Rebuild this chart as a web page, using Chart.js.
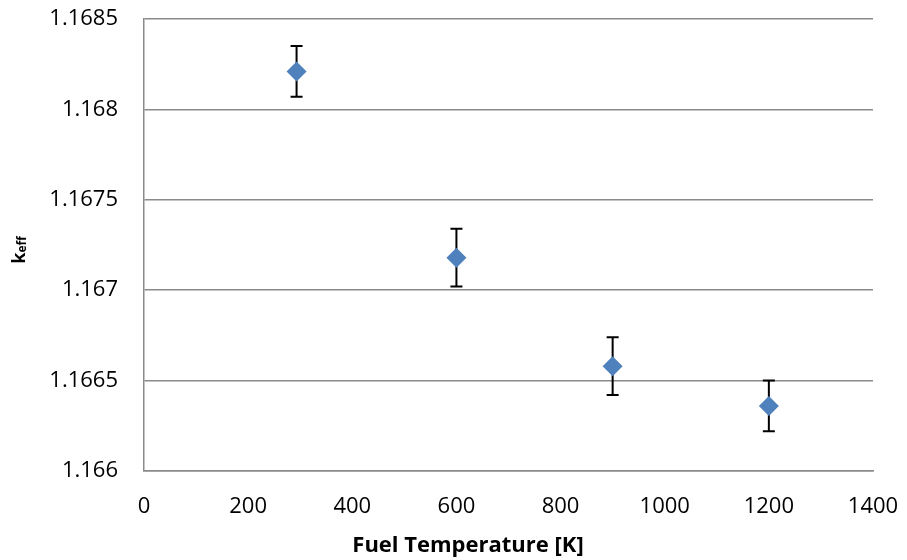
<!DOCTYPE html>
<html>
<head>
<meta charset="utf-8">
<script src="https://cdn.jsdelivr.net/npm/chart.js@4/dist/chart.umd.min.js"></script>
<style>
  html, body { margin: 0; padding: 0; background: #fff; }
  #wrap { width: 907px; height: 560px; }
</style>
</head>
<body>
<div id="wrap"><canvas id="keffChart" width="907" height="560"></canvas></div>
<script>
// fuel temperature [K] and k-eff with one-sigma uncertainty
const temperatures = [293, 600, 900, 1200];
const keffValues = [1.16821, 1.16718, 1.16658, 1.16636];
const keffErrors = [0.00014, 0.00016, 0.00016, 0.00014];
const xTicks = [0, 200, 400, 600, 800, 1000, 1200, 1400];
const yTicks = [1.166, 1.1665, 1.167, 1.1675, 1.168, 1.1685];

const FONT = '"Open Sans", "Liberation Sans", sans-serif';

// vertical error bars with caps, drawn underneath the markers
const errorBars = {
    id: 'errorBars',
    beforeDatasetsDraw(chart) {
        const { ctx, scales: { x, y } } = chart;
        ctx.save();
        ctx.strokeStyle = '#000';
        ctx.lineWidth = 2;
        temperatures.forEach((t, i) => {
            const px = x.getPixelForValue(t);
            const top = y.getPixelForValue(keffValues[i] + keffErrors[i]);
            const bot = y.getPixelForValue(keffValues[i] - keffErrors[i]);
            ctx.beginPath();
            ctx.moveTo(px, top); ctx.lineTo(px, bot);
            ctx.moveTo(px - 6, top); ctx.lineTo(px + 6, top);
            ctx.moveTo(px - 6, bot); ctx.lineTo(px + 6, bot);
            ctx.stroke();
        });
        ctx.restore();
    }
};

// axis titles: the y title needs a subscript, so both are drawn here
const axisTitles = {
    id: 'axisTitles',
    afterDraw(chart) {
        const { ctx, chartArea } = chart;
        ctx.save();
        ctx.fillStyle = '#000';
        ctx.textBaseline = 'middle';
        ctx.font = 'bold 22px ' + FONT;
        ctx.textAlign = 'center';
        ctx.fillText('Fuel Temperature [K]', 468, 546);

        ctx.translate(20, (chartArea.top + chartArea.bottom) / 2 + 5);
        ctx.rotate(-Math.PI / 2);
        ctx.textAlign = 'left';
        ctx.font = 'bold 18px ' + FONT;
        const kw = ctx.measureText('k').width;
        ctx.font = 'bold 12px ' + FONT;
        const ew = ctx.measureText('eff').width;
        const start = -(kw + ew) / 2;
        ctx.font = 'bold 18px ' + FONT;
        ctx.fillText('k', start, 0);
        ctx.font = 'bold 12px ' + FONT;
        ctx.fillText('eff', start + kw, 3);
        ctx.restore();
    }
};

new Chart(document.getElementById('keffChart'), {
    type: 'scatter',
    data: {
        datasets: [{
            data: temperatures.map((t, i) => ({ x: t, y: keffValues[i] })),
            pointStyle: 'rectRot',
            pointRadius: 10,
            pointHoverRadius: 10,
            backgroundColor: '#4F81BD',
            borderColor: '#4F81BD',
            borderWidth: 0
        }]
    },
    options: {
        responsive: false,
        animation: false,
        layout: { padding: { top: 19, right: 34, left: 0, bottom: 0 } },
        plugins: { legend: { display: false }, tooltip: { enabled: false } },
        scales: {
            x: {
                type: 'linear',
                min: 0,
                max: 1400,
                afterBuildTicks: (s) => { s.ticks = xTicks.map(v => ({ value: v })); },
                afterFit: (s) => { s.height = 89; s.paddingLeft = 0; s.paddingRight = 0; },
                grid: { display: false },
                border: { display: true, color: '#8a8a8a', width: 1.5 },
                ticks: {
                    color: '#000',
                    padding: 15,
                    maxRotation: 0,
                    font: { family: FONT, size: 22 },
                    callback: (v) => String(v)
                }
            },
            y: {
                min: 1.166,
                max: 1.1685,
                afterBuildTicks: (s) => { s.ticks = yTicks.map(v => ({ value: v })); },
                afterFit: (s) => { s.width = 144; s.paddingTop = 0; s.paddingBottom = 0; },
                grid: { color: '#8a8a8a', lineWidth: 1.5, drawTicks: false },
                border: { display: true, color: '#8a8a8a', width: 1.5 },
                ticks: {
                    color: '#000',
                    padding: 26,
                    font: { family: FONT, size: 22 },
                    callback: (v) => String(Number(v.toFixed(4)))
                }
            }
        }
    },
    plugins: [errorBars, axisTitles]
});
</script>
</body>
</html>
